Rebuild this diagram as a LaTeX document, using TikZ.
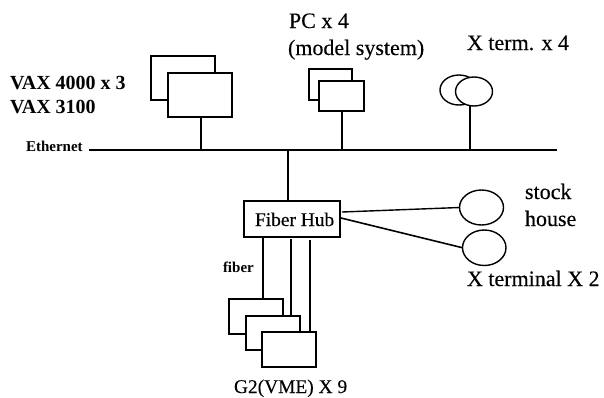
\documentclass[tikz,border=0pt]{standalone}
\usepackage{fontspec}
\setmainfont{Liberation Serif}
\newfontfamily\heavy[FakeBold=0.25]{Liberation Serif}
\tikzset{
  px/.style={x=1pt,y=-1pt},
  box/.style={draw=black,fill=white,line width=1.6pt,rectangle,inner sep=0pt,outer sep=0pt},
  term/.style={draw=black,fill=white,line width=1.4pt,ellipse,inner sep=0pt,outer sep=0pt},
  link/.style={draw=black,line width=1.3pt},
  lab/.style={inner sep=0pt,outer sep=0pt,anchor=base west},
  fa/.style={font=\fontsize{20}{20}\selectfont\bfseries},
  fb/.style={font=\heavy\fontsize{22}{22}\selectfont},
  fc/.style={font=\heavy\fontsize{19.4}{19.4}\selectfont},
  fd/.style={font=\fontsize{15}{15}\selectfont\bfseries},
}
\usetikzlibrary{shapes.geometric}
\newcommand{\bx}[6]{\node[#6,minimum width=#4pt-#2pt,minimum height=#5pt-#3pt] (#1) at ({(#2+#4)/2},{(#3+#5)/2}) {};}
\begin{document}
\begin{tikzpicture}[px]
\useasboundingbox (0,0) rectangle (604,397);
% boxes
\bx{vaxb}{151}{56}{215}{100}{box}
\bx{vaxf}{168}{73}{232}{117}{box}
\bx{pcb}{309}{69}{352}{100}{box}
\bx{pcf}{319}{81}{364}{111}{box}
\bx{xb}{440}{75}{478}{105}{term}
\bx{xf}{455.5}{77}{492.5}{106}{term}
\bx{hub}{244}{201}{340}{237}{box}
\bx{ga}{229}{299}{283}{334}{box}
\bx{gb}{246}{316}{300}{350}{box}
\bx{gc}{262}{332}{316}{367}{box}
\bx{sa}{459.5}{190}{503.5}{225}{term}
\bx{sb}{462.5}{230}{506}{265.5}{term}
% ethernet bus
\coordinate (eL) at (89,150);
\coordinate (eR) at (557,150);
\draw[link,line width=1.5pt] (eL) -- (eR);
\coordinate (e1) at (201,150);
\coordinate (e2) at (342,150);
\coordinate (e3) at (470,150);
\coordinate (e4) at (288,150);
\draw[link] (e1) -- (e1 |- vaxf.south);
\draw[link] (e2) -- (e2 |- pcf.south);
\draw[link] (e3) -- (e3 |- xf.south);
\draw[link] (e4) -- (e4 |- hub.north);
% fibers
\coordinate (f1) at (263,238);
\coordinate (f2) at (291,239);
\coordinate (f3) at (310,240);
\draw[link] (f1) -- (f1 |- ga.north);
\draw[link] (f2) -- (f2 |- gb.north);
\draw[link] (f3) -- (f3 |- gc.north);
% terminal links
\coordinate (h1) at (342,212);
\coordinate (h2) at (341,218);
\draw[link,line width=1.4pt] (h1) -- (sa.west);
\draw[link,line width=1.6pt] (h2) -- (sb.west);
% labels
\node[lab,fa] (t1) at (10,89) {VAX 4000 x 3};
\node[lab,fa] (t2) at (10,113) {VAX 3100};
\node[lab,fd] (t3) at (26,151) {Ethernet};
\node[lab,fb] (t4) at (289,28) {PC x 4};
\node[lab,fb] (t5) at (288,55) {(model system)};
\node[lab,fb] (t6) at (467,50) {X term. x 4};
\node[lab,fb] (t7) at (525,199) {stock};
\node[lab,fb] (t8) at (525,226) {house};
\node[lab,fb] (t9) at (467,286) {X terminal X 2};
\node[lab,fc] (t10) at (255,226) {Fiber Hub};
\node[lab,fd] (t11) at (223,272) {fiber};
\node[lab,fc] (t12) at (234,393) {G2(VME) X 9};
\end{tikzpicture}
\end{document}
